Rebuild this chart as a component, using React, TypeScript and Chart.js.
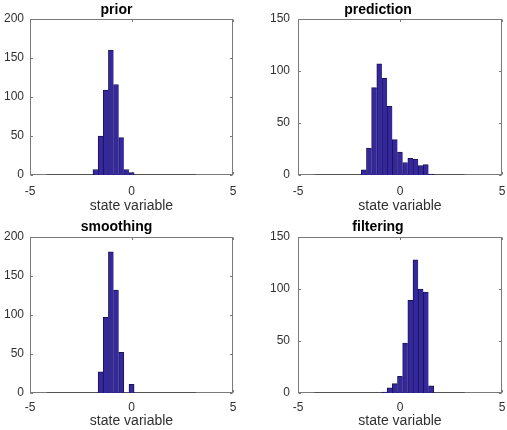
import React, { useEffect, useRef } from "react";
import { Chart, registerables } from "chart.js";

Chart.register(...registerables);

// Histogram bin centres (shared by all four panels)
const BIN_CENTERS = [
  -4.053, -3.8, -3.546, -3.293, -3.039, -2.786, -2.532, -2.279, -2.025, -1.772,
  -1.518, -1.265, -1.011, -0.758, -0.504, -0.251, 0.003, 0.256, 0.51, 0.763,
  1.017, 1.27, 1.524, 1.777, 2.031, 2.284, 2.538, 2.791, 3.045,
];
// Outer edges of the histogram range
const HIST_RANGE = [-4.18, 3.172];

const PRIOR = [
  0, 0, 0, 0, 0, 0, 0, 0, 0, 7, 50, 109, 160, 116, 48, 7, 3, 0, 0, 0, 0, 0, 0, 0,
  0, 0, 0, 0, 0,
];
const PREDICTION = [
  0, 0, 0, 0, 0, 0, 0, 0, 0, 5, 26, 84, 107, 93, 66, 34, 22, 12, 16, 15, 9, 10,
  1, 0, 0, 0, 0, 0, 0,
];
const SMOOTHING = [
  0, 0, 0, 0, 0, 0, 0, 0, 0, 0, 27, 97, 181, 132, 52, 0, 11, 0, 0, 0, 0, 0, 0, 0,
  0, 0, 0, 0, 0,
];
const FILTERING = [
  0, 0, 0, 0, 0, 0, 0, 0, 0, 0, 0, 0, 0, 1, 5, 9, 16, 48, 89, 128, 100, 97, 7, 0,
  0, 0, 0, 0, 0,
];

const TITLES = ["prior", "prediction", "smoothing", "filtering"];
const Y_MAX = [200, 150, 200, 150];
const X_MIN = -5;
const X_MAX = 5;
const X_STEP = 5;
const Y_STEP = 50;
const X_LABEL = "state variable";

const FONT = "'Liberation Sans', Arial, Helvetica, sans-serif";
const AXIS_COLOR = "#7a7a7a";
const TEXT_COLOR = "#303030";
const BAR_FILL = "rgb(53, 40, 158)";
const BAR_EDGE = "#1b1650";

type Spec = {
  title: string;
  values: number[];
  yMax: number;
  left: number;
  top: number;
  width: number;
  height: number;
  yAxisW: number;
  yTickPad: number;
  padRight: number;
  titlePadTop: number;
  titlePadBottom: number;
  xAxisH: number;
  xTickPad: number;
};

const boxPlugin = {
  id: "matlabBox",
  beforeDatasetsDraw(chart: any) {
    const { ctx, chartArea: a, scales } = chart;
    ctx.save();
    ctx.strokeStyle = AXIS_COLOR;
    ctx.lineWidth = 1;
    const l = Math.round(a.left) + 0.5;
    const r = Math.round(a.right) - 0.5;
    const t = Math.round(a.top) + 0.5;
    const b = Math.round(a.bottom) - 0.5;
    ctx.strokeRect(l, t, r - l, b - t);
    const tl = 2.5;
    ctx.beginPath();
    scales.x.ticks.forEach((tk: any) => {
      const px = Math.round(scales.x.getPixelForValue(tk.value)) + 0.5;
      ctx.moveTo(px, b);
      ctx.lineTo(px, b - tl);
      ctx.moveTo(px, t);
      ctx.lineTo(px, t + tl);
    });
    scales.y.ticks.forEach((tk: any) => {
      const py = Math.round(scales.y.getPixelForValue(tk.value)) + 0.5;
      ctx.moveTo(l, py);
      ctx.lineTo(l + tl, py);
      ctx.moveTo(r, py);
      ctx.lineTo(r - tl, py);
    });
    ctx.stroke();
    ctx.restore();
  },
};

function Panel({ spec }: { spec: Spec }) {
  const ref = useRef<HTMLCanvasElement | null>(null);
  useEffect(() => {
    if (!ref.current) return;
    const vals = spec.values;
    const chart = new Chart(ref.current, {
      type: "bar",
      data: {
        datasets: [
          {
            type: "bar",
            data: BIN_CENTERS.map((c, i) => ({ x: c, y: vals[i] })),
            backgroundColor: BAR_FILL,
            borderColor: BAR_EDGE,
            borderWidth: (ctx: any) => {
              const i = ctx.dataIndex;
              const next = i + 1 < vals.length ? vals[i + 1] : 0;
              return { top: 1, left: 1, bottom: 0, right: next === 0 ? 1 : 0 };
            },
            borderSkipped: false,
            barPercentage: 1,
            categoryPercentage: 1,
            order: 0,
          } as any,
          {
            type: "line",
            data: HIST_RANGE.map((x) => ({ x, y: 0 })),
            borderColor: "#2a2a2a",
            borderWidth: 1,
            pointRadius: 0,
            order: 1,
          } as any,
        ],
      },
      options: {
        animation: false,
        responsive: false,
        events: [],
        layout: { padding: { left: 0, right: spec.padRight, top: 0, bottom: 0 } },
        plugins: {
          legend: { display: false },
          tooltip: { enabled: false },
          title: {
            display: true,
            text: spec.title,
            color: "#000",
            font: { family: FONT, size: 14, weight: "bold", lineHeight: 1.2 },
            padding: { top: spec.titlePadTop, bottom: spec.titlePadBottom },
          },
        },
        scales: {
          x: {
            type: "linear",
            offset: false,
            min: X_MIN,
            max: X_MAX,
            ticks: {
              stepSize: X_STEP,
              color: TEXT_COLOR,
              font: { family: FONT, size: 12 },
              padding: spec.xTickPad,
              maxRotation: 0,
            },
            grid: { display: false, drawTicks: false, offset: false },
            border: { display: false },
            title: {
              display: true,
              text: X_LABEL,
              color: TEXT_COLOR,
              font: { family: FONT, size: 14, lineHeight: 1.2 },
              padding: { top: 0, bottom: 0.5 },
            },
            afterFit: (s: any) => {
              s.height = spec.xAxisH;
              s.paddingLeft = 0;
              s.paddingRight = 0;
            },
          },
          y: {
            min: 0,
            max: spec.yMax,
            ticks: {
              stepSize: Y_STEP,
              color: TEXT_COLOR,
              font: { family: FONT, size: 12 },
              padding: spec.yTickPad,
            },
            grid: { display: false, drawTicks: false },
            border: { display: false },
            afterFit: (s: any) => {
              s.width = spec.yAxisW;
              s.paddingTop = 0;
              s.paddingBottom = 0;
            },
          },
        },
      } as any,
      plugins: [boxPlugin],
    });
    return () => chart.destroy();
  }, [spec]);
  return (
    <canvas
      ref={ref}
      width={spec.width}
      height={spec.height}
      style={{
        position: "absolute",
        left: spec.left,
        top: spec.top,
        width: spec.width,
        height: spec.height,
      }}
    />
  );
}

const SERIES = [PRIOR, PREDICTION, SMOOTHING, FILTERING];

const SPECS: Spec[] = SERIES.map((values, i) => {
  const col = i % 2;
  const row = Math.floor(i / 2);
  return {
    title: TITLES[i],
    values,
    yMax: Y_MAX[i],
    left: col === 0 ? 0 : 254,
    top: row === 0 ? 0 : 215,
    width: col === 0 ? 254 : 253,
    height: 215,
    yAxisW: col === 0 ? 30 : 44,
    yTickPad: col === 0 ? 6 : 8,
    padRight: col === 0 ? 21 : 5,
    titlePadTop: row === 0 ? 2.2 : 4.2,
    titlePadBottom: row === 0 ? 0 : 1,
    xAxisH: row === 0 ? 40 : 37,
    xTickPad: row === 0 ? 9 : 7.5,
  };
});

export default function App() {
  return (
    <div
      style={{
        position: "absolute",
        left: 0,
        top: 0,
        width: 507,
        height: 430,
        background: "#fff",
      }}
    >
      {SPECS.map((s) => (
        <Panel key={s.title} spec={s} />
      ))}
    </div>
  );
}
